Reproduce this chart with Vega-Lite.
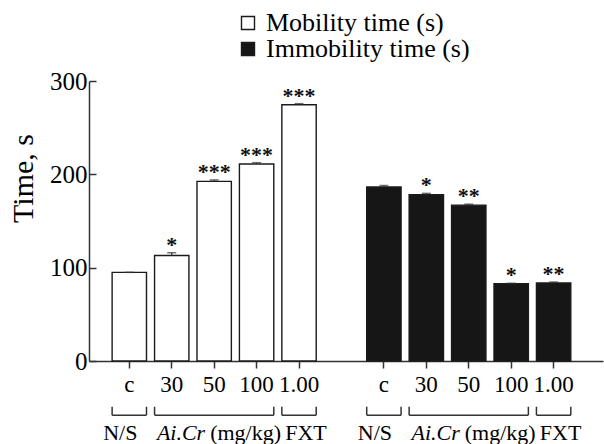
{
  "$schema": "https://vega.github.io/schema/vega-lite/v6.json",
  "autosize": "none",
  "width": 514,
  "height": 280,
  "padding": {"left": 89, "top": 81, "right": 1, "bottom": 83},
  "background": "white",
  "config": {
    "view": {"stroke": null},
    "font": "Liberation Serif",
    "axis": {"grid": false, "domainColor": "#333", "domainWidth": 1.5, "tickColor": "#333", "tickWidth": 1.5, "labelColor": "black", "titleColor": "black", "labelFont": "Liberation Serif", "titleFont": "Liberation Serif", "titleFontWeight": "normal"},
    "legend": {"labelFont": "Liberation Serif"}
  },
  "datasets": {
    "bars": [
      {"series": "Mobility time (s)", "slot": "Mobility c", "time": 95, "upper": 95, "sig": ""},
      {"series": "Mobility time (s)", "slot": "Mobility 30", "time": 113, "upper": 116, "sig": "*"},
      {"series": "Mobility time (s)", "slot": "Mobility 50", "time": 192.5, "upper": 194, "sig": "***"},
      {"series": "Mobility time (s)", "slot": "Mobility 100", "time": 211, "upper": 212.5, "sig": "***"},
      {"series": "Mobility time (s)", "slot": "Mobility 1.00", "time": 274.6, "upper": 275.7, "sig": "***"},
      {"series": "Immobility time (s)", "slot": "Immobility c", "time": 186.4, "upper": 188, "sig": ""},
      {"series": "Immobility time (s)", "slot": "Immobility 30", "time": 178.2, "upper": 179.6, "sig": "*"},
      {"series": "Immobility time (s)", "slot": "Immobility 50", "time": 167, "upper": 168, "sig": "**"},
      {"series": "Immobility time (s)", "slot": "Immobility 100", "time": 82.8, "upper": 83.3, "sig": "*"},
      {"series": "Immobility time (s)", "slot": "Immobility 1.00", "time": 83.6, "upper": 84.6, "sig": "**"}
    ],
    "groups": [
      {"from": "Mobility c", "to": "Mobility c", "mid": "Mobility c", "name": "N/S", "unit": null},
      {"from": "Mobility 30", "to": "Mobility 100", "mid": "Mobility 50", "name": "Ai.Cr", "unit": "(mg/kg)"},
      {"from": "Mobility 1.00", "to": "Mobility 1.00", "mid": "Mobility 1.00", "name": "FXT", "unit": null},
      {"from": "Immobility c", "to": "Immobility c", "mid": "Immobility c", "name": "N/S", "unit": null},
      {"from": "Immobility 30", "to": "Immobility 100", "mid": "Immobility 50", "name": "Ai.Cr", "unit": "(mg/kg)"},
      {"from": "Immobility 1.00", "to": "Immobility 1.00", "mid": "Immobility 1.00", "name": "FXT", "unit": null}
    ]
  },
  "layer": [
    {
      "data": {"name": "bars"},
      "mark": {"type": "bar", "stroke": "#1a1a1a", "strokeWidth": 1.4},
      "encoding": {
        "x": {
          "field": "slot", "type": "nominal",
          "scale": {
            "type": "band",
            "domain": ["Mobility c", "Mobility 30", "Mobility 50", "Mobility 100", "Mobility 1.00", " ", "Immobility c", "Immobility 30", "Immobility 50", "Immobility 100", "Immobility 1.00"],
            "paddingInner": 0.19, "paddingOuter": 0.652, "align": 0.418, "round": false
          },
          "axis": {
            "title": null,
            "values": ["Mobility c", "Mobility 30", "Mobility 50", "Mobility 100", "Mobility 1.00", "Immobility c", "Immobility 30", "Immobility 50", "Immobility 100", "Immobility 1.00"],
            "labelExpr": "split(datum.value, ' ')[1]",
            "labelAngle": 0, "labelFontSize": 23, "labelPadding": 5, "tickSize": 7
          }
        },
        "y": {
          "field": "time", "type": "quantitative",
          "scale": {"domain": [0, 300], "nice": false},
          "axis": {
            "title": "Time, s", "values": [0, 100, 200, 300], "tickSize": -7, "labelPadding": 9, "labelFontSize": 25,
            "titleFontSize": 30, "titleAngle": -90, "titleX": -66, "titleY": 97, "titleAlign": "center", "titleBaseline": "middle"
          }
        },
        "fill": {
          "field": "series", "type": "nominal",
          "scale": {"domain": ["Mobility time (s)", "Immobility time (s)"], "range": ["#ffffff", "#161616"]},
          "legend": {
            "title": null, "orient": "none", "legendX": 146, "legendY": -71, "padding": 0,
            "symbolType": "square", "symbolSize": 169, "symbolStrokeColor": "#1a1a1a", "symbolStrokeWidth": 1.4,
            "labelFontSize": 26, "labelOffset": 5, "labelLimit": 0, "rowPadding": 0, "labelColor": "black"
          }
        }
      }
    },
    {
      "data": {"name": "bars"},
      "mark": {"type": "rule", "color": "#333", "strokeWidth": 1.2},
      "encoding": {
        "x": {"field": "slot", "type": "nominal"},
        "y": {"field": "time", "type": "quantitative"},
        "y2": {"field": "upper"}
      }
    },
    {
      "data": {"name": "bars"},
      "mark": {"type": "tick", "orient": "horizontal", "color": "#333", "size": 9, "thickness": 1.5},
      "encoding": {
        "x": {"field": "slot", "type": "nominal"},
        "y": {"field": "upper", "type": "quantitative"}
      }
    },
    {
      "data": {"name": "bars"},
      "mark": {"type": "text", "fontSize": 22, "fontWeight": "bold", "baseline": "alphabetic", "dy": -1, "color": "#111"},
      "encoding": {
        "x": {"field": "slot", "type": "nominal"},
        "y": {"field": "upper", "type": "quantitative"},
        "text": {"field": "sig"}
      }
    },
    {
      "data": {"name": "groups"},
      "mark": {"type": "rule", "color": "#333", "strokeWidth": 1.5},
      "encoding": {
        "x": {"field": "from", "type": "nominal", "bandPosition": 0},
        "x2": {"field": "to", "bandPosition": 1},
        "y": {"datum": -58}
      }
    },
    {
      "data": {"name": "groups"},
      "mark": {"type": "rule", "color": "#333", "strokeWidth": 1.5},
      "encoding": {
        "x": {"field": "from", "type": "nominal", "bandPosition": 0},
        "y": {"datum": -58},
        "y2": {"datum": -49}
      }
    },
    {
      "data": {"name": "groups"},
      "mark": {"type": "rule", "color": "#333", "strokeWidth": 1.5},
      "encoding": {
        "x": {"field": "to", "type": "nominal", "bandPosition": 1},
        "y": {"datum": -58},
        "y2": {"datum": -49}
      }
    },
    {
      "data": {"name": "groups"},
      "transform": [{"filter": "datum.name == 'N/S'"}],
      "mark": {"type": "text", "fontSize": 22, "baseline": "middle", "align": "center", "dx": -9, "color": "black"},
      "encoding": {
        "x": {"field": "mid", "type": "nominal"},
        "y": {"datum": -77},
        "text": {"field": "name"}
      }
    },
    {
      "data": {"name": "groups"},
      "transform": [{"filter": "datum.name == 'FXT'"}],
      "mark": {"type": "text", "fontSize": 22, "baseline": "middle", "align": "center", "dx": 7, "color": "black"},
      "encoding": {
        "x": {"field": "mid", "type": "nominal"},
        "y": {"datum": -77},
        "text": {"field": "name"}
      }
    },
    {
      "data": {"name": "groups"},
      "transform": [{"filter": "datum.unit != null"}],
      "mark": {"type": "text", "fontSize": 22, "fontStyle": "italic", "baseline": "middle", "align": "right", "dx": -9, "color": "black"},
      "encoding": {
        "x": {"field": "mid", "type": "nominal"},
        "y": {"datum": -77},
        "text": {"field": "name"}
      }
    },
    {
      "data": {"name": "groups"},
      "transform": [{"filter": "datum.unit != null"}],
      "mark": {"type": "text", "fontSize": 22, "baseline": "middle", "align": "left", "dx": -4, "color": "black"},
      "encoding": {
        "x": {"field": "mid", "type": "nominal"},
        "y": {"datum": -77},
        "text": {"field": "unit"}
      }
    }
  ]
}
